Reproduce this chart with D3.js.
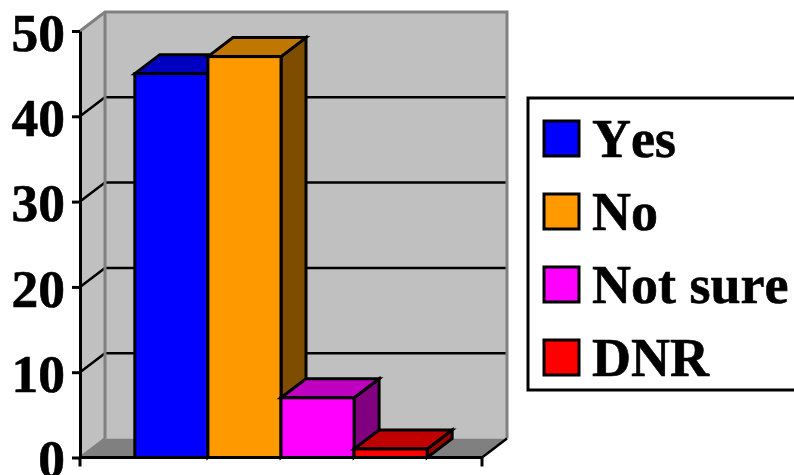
<!DOCTYPE html>
<html>
<head>
<meta charset="utf-8">
<script src="https://cdn.jsdelivr.net/npm/d3@7"></script>
<style>
  html, body { margin: 0; padding: 0; background: #fff; overflow: hidden; }
  text { font-family: "Liberation Serif", serif; font-weight: bold; fill: #000; font-kerning: none; }
</style>
</head>
<body>
<div id="chart"></div>
<script>
// data
const categories = ["Yes", "No", "Not sure", "DNR"]
const values = [45, 47, 7, 1]
const colors_front = ["#0000ff", "#ff9900", "#ff00ff", "#ff0000"]
const colors_top = ["#0000c0", "#c07700", "#c000c0", "#c00000"]
const colors_side = ["#000080", "#7f4d00", "#800080", "#a00000"]
const y_ticks = [0, 10, 20, 30, 40, 50]

// layout
const width = 794
const height = 475
const depth_x = 25
const depth_y = 19
const left = 80
const right = 482
const bottom = 457.5
const top_y = 31

const svg = d3.select("#chart")
    .append("svg")
        .attr("width", width)
        .attr("height", height)
        .style("display", "block");

const x = d3.scaleBand()
    .domain(categories)
    .range([left, right])
    .paddingInner(0)
    .paddingOuter(0.75);

const y = d3.scaleLinear()
    .domain([0, 50])
    .range([bottom, top_y]);

const poly = pts => pts.map(p => p.join(",")).join(" ");

// walls and floor
svg.append("polygon")
    .attr("points", poly([[left + depth_x, y(50) - depth_y], [right + depth_x, y(50) - depth_y], [right + depth_x, y(0) - depth_y], [left + depth_x, y(0) - depth_y]]))
    .attr("fill", "#c0c0c0");
svg.append("polygon")
    .attr("points", poly([[left, y(50)], [left + depth_x, y(50) - depth_y], [left + depth_x, y(0) - depth_y], [left, y(0)]]))
    .attr("fill", "#c0c0c0");
svg.append("polygon")
    .attr("points", poly([[left, y(0)], [left + depth_x, y(0) - depth_y], [right + depth_x, y(0) - depth_y], [right, y(0)]]))
    .attr("fill", "#808080");

// gridlines
svg.selectAll("polyline.grid")
    .data(y_ticks.filter(d => d > 0 && d < 50))
    .join("polyline")
        .attr("class", "grid")
        .attr("points", d => poly([[left, y(d)], [left + depth_x, y(d) - depth_y], [right + depth_x, y(d) - depth_y]]))
        .attr("fill", "none")
        .attr("stroke", "#000")
        .attr("stroke-width", 2.5);

// wall edges
svg.append("polyline")
    .attr("points", poly([[left, y(50)], [left + depth_x, y(50) - depth_y], [right + depth_x, y(50) - depth_y], [right + depth_x, y(0) - depth_y]]))
    .attr("fill", "none")
    .attr("stroke", "#808080")
    .attr("stroke-width", 3);
svg.append("line")
    .attr("x1", left + depth_x)
    .attr("y1", y(50) - depth_y)
    .attr("x2", left + depth_x)
    .attr("y2", y(0) - depth_y)
    .attr("stroke", "#808080")
    .attr("stroke-width", 3);
svg.append("line")
    .attr("x1", left)
    .attr("y1", y(0))
    .attr("x2", left + depth_x)
    .attr("y2", y(0) - depth_y)
    .attr("stroke", "#808080")
    .attr("stroke-width", 2.5);

// bars
const bars = svg.selectAll("g.bar")
    .data(categories.map((c, i) => ({ category: c, value: values[i], i: i })))
    .join("g")
        .attr("class", "bar")
        .attr("stroke", "#000")
        .attr("stroke-width", 3)
        .attr("stroke-linejoin", "miter");

bars.append("polygon")
    .attr("points", d => {
        const x0 = x(d.category) + x.bandwidth();
        return poly([[x0, y(d.value)], [x0 + depth_x, y(d.value) - depth_y], [x0 + depth_x, y(0) - depth_y], [x0, y(0)]]);
    })
    .attr("fill", d => colors_side[d.i]);

bars.append("polygon")
    .attr("points", d => {
        const x0 = x(d.category);
        const x1 = x0 + x.bandwidth();
        return poly([[x0, y(d.value)], [x0 + depth_x, y(d.value) - depth_y], [x1 + depth_x, y(d.value) - depth_y], [x1, y(d.value)]]);
    })
    .attr("fill", d => colors_top[d.i]);

bars.append("rect")
    .attr("x", d => x(d.category))
    .attr("y", d => y(d.value))
    .attr("width", x.bandwidth())
    .attr("height", d => y(0) - y(d.value))
    .attr("fill", d => colors_front[d.i]);

// right edge of the floor, bottom axis
svg.append("line")
    .attr("x1", right)
    .attr("y1", y(0))
    .attr("x2", right + depth_x)
    .attr("y2", y(0) - depth_y)
    .attr("stroke", "#000")
    .attr("stroke-width", 2.5);
svg.append("g")
    .attr("stroke", "#000")
    .attr("stroke-width", 3)
    .call(g => g.append("line").attr("x1", left).attr("x2", right).attr("y1", y(0)).attr("y2", y(0)))
    .call(g => g.append("line").attr("x1", right).attr("x2", right).attr("y1", y(0)).attr("y2", y(0) + 9))
    .call(g => g.append("line").attr("x1", left).attr("x2", left).attr("y1", y(0)).attr("y2", y(0) + 9));

// y axis
const y_axis = svg.append("g")
    .attr("transform", `translate(${left}, 0)`)
    .call(d3.axisLeft(y)
            .tickValues(y_ticks)
            .tickSize(8)
            .tickPadding(7)
            .tickSizeOuter(0));
y_axis.selectAll("path, line")
    .attr("stroke", "#000")
    .attr("stroke-width", 3);
y_axis.selectAll("text")
    .style("font-family", '"Liberation Serif", serif')
    .style("font-weight", "bold")
    .style("font-size", "53.5px")
    .attr("dy", "0.36em")
    .attr("fill", "#000")
    .attr("stroke", "#000")
    .attr("stroke-width", 0.6);

// legend
const legend_x = 528
const legend_y = 98
const legend_step = 73

svg.append("rect")
    .attr("x", legend_x)
    .attr("y", legend_y)
    .attr("width", 290)
    .attr("height", 292)
    .attr("fill", "#fff")
    .attr("stroke", "#000")
    .attr("stroke-width", 3);

const legend = svg.selectAll("g.legend")
    .data(categories)
    .join("g")
        .attr("class", "legend")
        .attr("transform", (d, i) => `translate(${legend_x + 16}, ${legend_y + 23 + i * legend_step})`);

legend.append("rect")
    .attr("width", 35)
    .attr("height", 35)
    .attr("fill", (d, i) => colors_front[i])
    .attr("stroke", "#000")
    .attr("stroke-width", 3);

legend.append("text")
    .attr("x", 48)
    .attr("y", 36)
    .style("font-size", "54px")
    .attr("stroke", "#000")
    .attr("stroke-width", 0.6)
    .text(d => d);
</script>
</body>
</html>
